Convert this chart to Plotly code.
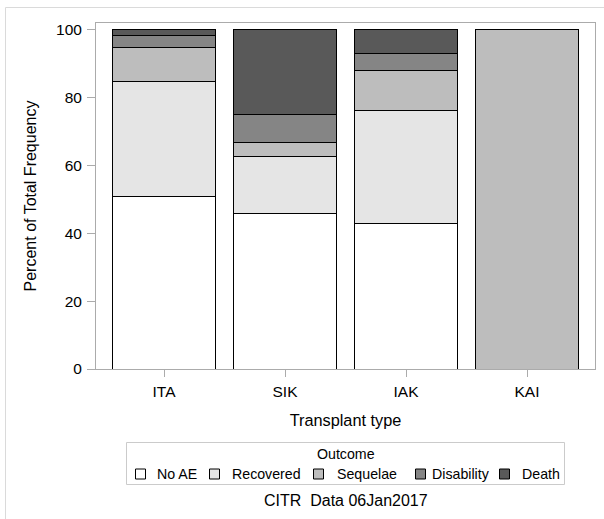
import plotly.graph_objects as go

categories = ["ITA", "SIK", "IAK", "KAI"]
outcomes = ["No AE", "Recovered", "Sequelae", "Disability", "Death"]
no_ae = [50.8, 45.8, 42.9, 0]
recovered = [33.9, 16.7, 33.3, 0]
sequelae = [10.2, 4.2, 11.9, 100]
disability = [3.4, 8.3, 4.8, 0]
death = [1.7, 25.0, 7.1, 0]
y_ticks = [0, 20, 40, 60, 80, 100]

series = [no_ae, recovered, sequelae, disability, death]
colors = ["#FFFFFF", "#E5E5E5", "#BDBDBD", "#858585", "#595959"]

FONT = "Liberation Sans, Arial, sans-serif"

fig = go.Figure()
for name, vals, col in zip(outcomes, series, colors):
    fig.add_trace(go.Bar(
        x=categories, y=vals, name=name,
        marker=dict(color=col, line=dict(color="#000000", width=1)),
        width=0.85, showlegend=False,
    ))

W, H = 604, 519
L, R, T, B = 96, 9, 23, 150
pw, ph = W - L - R, H - T - B

def px_x(x):
    return (x - L) / pw

def px_y(y):
    return (H - B - y) / ph

# manual legend (box, title, swatches, labels)
leg_sq_x = [135, 209, 313, 415, 499]
leg_tx_x = [155, 230, 335, 430, 520]
shapes = [
    dict(type="rect", xref="paper", yref="paper", layer="below",
         x0=px_x(5.5), x1=px_x(620), y0=px_y(540), y1=px_y(7.5),
         line=dict(color="#DADADA", width=1), fillcolor="rgba(0,0,0,0)"),
    dict(type="rect", xref="paper", yref="paper",
         x0=px_x(126.5), x1=px_x(564.5), y0=px_y(484.5), y1=px_y(442.5),
         line=dict(color="#CBCBCB", width=1), fillcolor="rgba(0,0,0,0)"),
]
annotations = [
    dict(text="Outcome", xref="paper", yref="paper", x=px_x(345.5), y=px_y(453.5),
         xanchor="center", yanchor="middle", showarrow=False, font=dict(size=14.2)),
    dict(text="CITR\u00a0 Data 06Jan2017", xref="paper", yref="paper",
         x=0.5, y=px_y(500.7), xanchor="center", yanchor="middle",
         showarrow=False, font=dict(size=16)),
]
for name, col, sx, tx in zip(outcomes, colors, leg_sq_x, leg_tx_x):
    shapes.append(dict(type="rect", xref="paper", yref="paper",
                       x0=px_x(sx + 0.5), x1=px_x(sx + 10.5),
                       y0=px_y(479), y1=px_y(469),
                       line=dict(color="#000000", width=1), fillcolor=col))
    annotations.append(dict(text=name, xref="paper", yref="paper",
                            x=px_x(tx), y=px_y(473.8), xanchor="left", yanchor="middle",
                            showarrow=False, font=dict(size=14.2)))

fig.update_layout(
    width=W, height=H,
    margin=dict(l=L, r=R, t=T, b=B, pad=0),
    barmode="stack",
    paper_bgcolor="white", plot_bgcolor="white",
    font=dict(family=FONT, size=15.5, color="#000000"),
    xaxis=dict(
        range=[-0.562, 3.562], showline=True, linecolor="#ABABAB", linewidth=1,
        mirror=True, ticks="outside", ticklen=7, tickcolor="#ABABAB",
        ticklabelstandoff=1,
        tickfont=dict(size=15.5), showgrid=False, zeroline=False,
        title=dict(text="Transplant type", font=dict(size=16.3)),
        automargin=False,
    ),
    yaxis=dict(
        range=[0, 102], tickvals=y_ticks, showline=True, linecolor="#ABABAB",
        linewidth=1, mirror=True, ticks="outside", ticklen=8, tickcolor="#ABABAB",
        ticklabelstandoff=2,
        tickfont=dict(size=15.5), showgrid=False, zeroline=False,
        title=dict(text="Percent of Total Frequency", font=dict(size=16)),
        automargin=False,
    ),
    showlegend=False,
    hovermode=False,
    annotations=annotations,
    shapes=shapes,
)

fig.write_html("out.html", config={"displayModeBar": False},
               post_script="document.body.style.margin='0';")
